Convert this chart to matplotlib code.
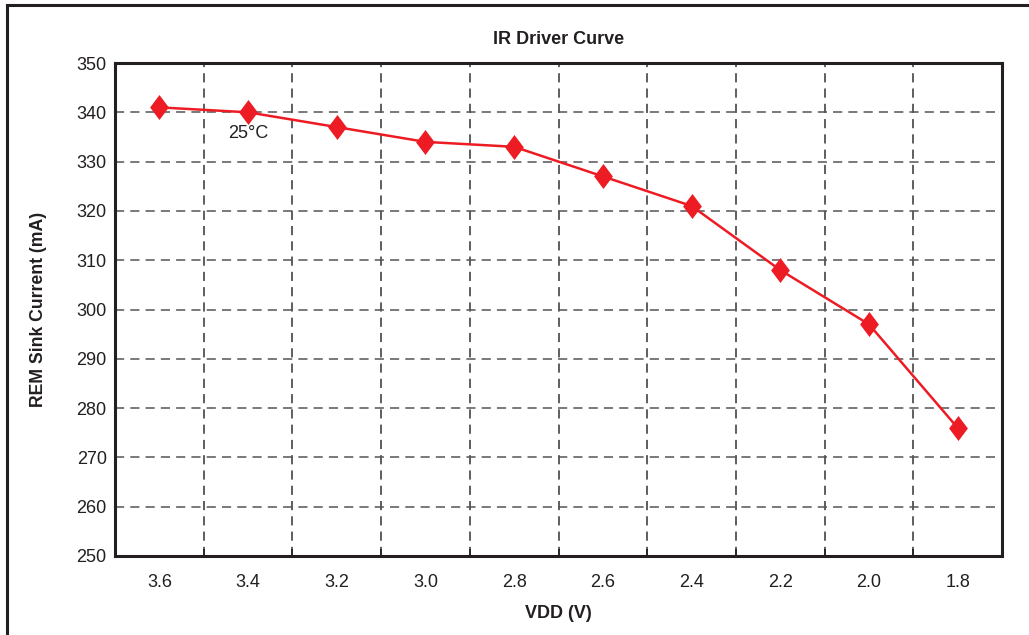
import matplotlib
matplotlib.use("Agg")
import matplotlib.pyplot as plt
from matplotlib.lines import Line2D
from matplotlib.path import Path
import numpy as np

plt.rcParams['font.family'] = ['Liberation Sans', 'DejaVu Sans']

vdd_labels = ["3.6", "3.4", "3.2", "3.0", "2.8", "2.6", "2.4", "2.2", "2.0", "1.8"]
sink_current = [341, 340, 337, 334, 333, 327, 321, 308, 297, 276]
y_ticks = [250, 260, 270, 280, 290, 300, 310, 320, 330, 340, 350]

fig = plt.figure(figsize=(10.29, 6.35), dpi=100)
ax = fig.add_axes([115/1029, 1-556/635, (1002-115)/1029, (556-63)/635])

x = np.arange(len(vdd_labels))
ax.set_xlim(-0.5, len(vdd_labels) - 0.5)
ax.set_ylim(250, 350)

dark = '#231f20'
ax.set_yticks(y_ticks)
ax.set_xticks(x)
ax.set_xticklabels(vdd_labels)
ax.set_xticks(np.arange(len(vdd_labels) - 1) + 0.5, minor=True)

ax.grid(True, axis='y', which='major', linestyle=(0, (6, 4)), color='#555555', lw=1.1)
ax.grid(True, axis='x', which='minor', linestyle=(0, (6, 4)), color='#333333', lw=1.1)
ax.set_axisbelow(True)

ax.tick_params(axis='x', which='major', length=0, pad=13, labelsize=13, colors=dark)
ax.tick_params(axis='x', which='minor', direction='in', length=5, width=1.2, color=dark)
ax.tick_params(axis='y', which='major', length=0, pad=6, labelsize=13, colors=dark)

for s in ax.spines.values():
    s.set_linewidth(2.2)
    s.set_color(dark)

diamond = Path([(0, 1), (0.75, 0), (0, -1), (-0.75, 0), (0, 1)],
               [Path.MOVETO, Path.LINETO, Path.LINETO, Path.LINETO, Path.CLOSEPOLY])
ax.plot(x, sink_current, color='#ED1C24', lw=1.8, marker=diamond, markersize=18,
        markeredgewidth=0, zorder=5)

ax.text(1, 335.8, "25°C", ha='center', va='center', fontsize=13, color=dark)

ax.set_title("IR Driver Curve", fontsize=13, fontweight='bold', color=dark, pad=14)
ax.set_xlabel("VDD (V)", fontsize=13, fontweight='bold', color=dark, labelpad=10)
ax.set_ylabel("REM Sink Current (mA)", fontsize=12.7, fontweight='bold', color=dark, labelpad=21)

fig.add_artist(Line2D([7/1029, 7/1029], [0, 1-5/635], transform=fig.transFigure, color=dark, lw=2.2))
fig.add_artist(Line2D([7/1029, 1], [1-5/635, 1-5/635], transform=fig.transFigure, color=dark, lw=2.2))

fig.savefig("out.png", dpi=100)
